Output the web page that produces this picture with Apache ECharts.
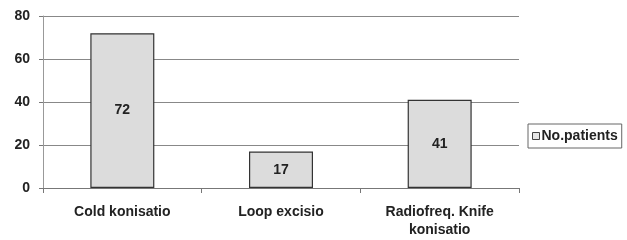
<!DOCTYPE html>
<html lang="en">
<head>
<meta charset="utf-8">
<title>No.patients</title>
<script src="https://cdn.jsdelivr.net/npm/echarts@6/dist/echarts.min.js"></script>
<style>
    html, body { margin: 0; padding: 0; background: #fff; }
    #chart { width: 627px; height: 240px; }
</style>
</head>
<body>
<div id="chart"></div>
<script type="text/javascript">
    // data
    var categories = ['Cold konisatio', 'Loop excisio', 'Radiofreq. Knife\nkonisatio'];
    var patients = [72, 17, 41];
    var seriesName = 'No.patients';

    var font = '"Liberation Sans", Arial, sans-serif';
    var chart = echarts.init(document.getElementById('chart'));
    var option = {
        animation: false,
        textStyle: { fontFamily: font },
        grid: { left: 43, right: 108, top: 16, bottom: 52, outerBoundsMode: 'none', containLabel: false },
        legend: {
            data: [seriesName],
            left: 528,
            top: 124,
            icon: 'rect',
            itemWidth: 7,
            itemHeight: 7,
            itemGap: 2,
            padding: [5, 4, 5, 4],
            borderColor: '#666',
            borderWidth: 1,
            itemStyle: { color: '#e6e6e6', borderColor: '#444', borderWidth: 1 },
            textStyle: { fontFamily: font, fontWeight: 'bold', fontSize: 14, color: '#222', padding: [0, 0, 0, -3] }
        },
        xAxis: {
            type: 'category',
            data: categories,
            axisLine: { lineStyle: { color: '#777', width: 1 } },
            axisTick: { show: true, length: 5, lineStyle: { color: '#777' } },
            axisLabel: { fontFamily: font, fontWeight: 'bold', fontSize: 14, color: '#222', margin: 15, lineHeight: 18 }
        },
        yAxis: {
            type: 'value',
            min: 0,
            max: 80,
            interval: 20,
            axisLine: { show: true, lineStyle: { color: '#999', width: 1 } },
            axisTick: { show: true, length: 4, lineStyle: { color: '#777' } },
            splitLine: { lineStyle: { color: '#888', width: 1 } },
            axisLabel: { fontFamily: font, fontWeight: 'bold', fontSize: 14, color: '#222', margin: 13 }
        },
        series: [{
            name: seriesName,
            type: 'bar',
            data: patients,
            barWidth: 64,
            itemStyle: { color: '#dcdcdc', borderColor: '#333', borderWidth: 1.2 },
            label: {
                show: true,
                position: 'inside',
                fontFamily: font,
                fontWeight: 'bold',
                fontSize: 14,
                color: '#222'
            }
        }]
    };
    chart.setOption(option);
</script>
</body>
</html>
